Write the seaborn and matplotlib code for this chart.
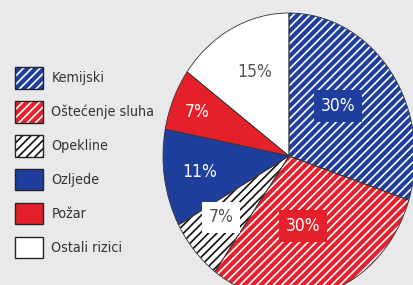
import matplotlib
matplotlib.use('Agg')
import matplotlib.pyplot as plt
import matplotlib.patches as mpatches
import seaborn as sns

# Data
categories = ['Kemijski', 'Oštećenje sluha', 'Opekline', 'Ozljede', 'Požar', 'Ostali rizici']
shares = [30, 30, 7, 11, 7, 15]
pct_labels = ['30%', '30%', '7%', '11%', '7%', '15%']

blue = '#1f3f9f'
red = '#e6202b'
fills = [blue, red, 'white', blue, red, 'white']
hatch_colors = ['white', 'white', '#111111', blue, red, 'white']
hatches = ['////', '////', '////', '', '', '']
text_colors = ['white', 'white', '#555555', 'white', 'white', '#555555']
boxed = [True, True, True, False, False, False]
# label spots in pie units
label_pos = [(0.39, 0.35), (0.11, -0.49), (-0.54, -0.43), (-0.71, -0.11), (-0.73, 0.31), (-0.27, 0.59)]

sns.set_theme(style='white')
plt.rcParams['font.family'] = ['DejaVu Sans']
plt.rcParams['hatch.linewidth'] = 1.2

bg = '#e9e9eb'
fig = plt.figure(figsize=(4.14, 2.85), dpi=100, facecolor=bg)

ax = fig.add_axes([163 / 414, -14 / 285, 252 / 414, 286 / 285])
ax.set_facecolor(bg)

wedges, _ = ax.pie(shares, startangle=90, counterclock=False, colors=fills,
                   wedgeprops=dict(linewidth=0))
for w, hc, h in zip(wedges, hatch_colors, hatches):
    w.set_edgecolor(hc)
    w.set_hatch(h)
# outlines on top
ax.pie(shares, startangle=90, counterclock=False,
       wedgeprops=dict(fill=False, edgecolor='#333333', linewidth=0.6))
ax.set_aspect('auto')
ax.set_xlim(-1, 1)
ax.set_ylim(-1, 1)
ax.axis('off')

for (x, y), lab, tc, fc, b in zip(label_pos, pct_labels, text_colors, fills, boxed):
    bbox = dict(boxstyle='square,pad=0.4', facecolor=fc, edgecolor='none') if b else None
    ax.text(x, y, lab, ha='center', va='center', fontsize=12.5, color=tc, bbox=bbox,
            fontstretch='condensed')

handles = []
for fc, hc, h in zip(fills, hatch_colors, hatches):
    p1 = mpatches.Patch(facecolor=fc, edgecolor=hc, hatch=h, linewidth=0)
    p2 = mpatches.Patch(facecolor='none', edgecolor='#222222', linewidth=1.0)
    handles.append((p1, p2))

fig.legend(handles, categories, loc='upper left',
           bbox_to_anchor=(15 / 414, 1 - 67 / 285), frameon=False,
           prop=dict(size=10.3, stretch='condensed'), handlelength=1.95, handleheight=1.95,
           labelspacing=0.86, handletextpad=0.6, borderpad=0, borderaxespad=0,
           labelcolor='#333333')

fig.savefig('out.png', dpi=100, facecolor=bg)
